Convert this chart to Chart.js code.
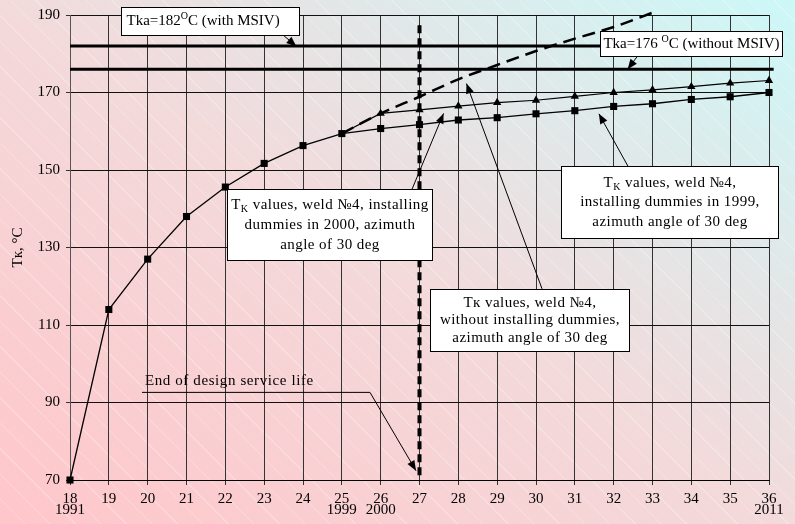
<!DOCTYPE html>
<html><head><meta charset="utf-8">
<script src="https://cdn.jsdelivr.net/npm/chart.js@4/dist/chart.umd.min.js"></script>
<style>
html,body{margin:0;padding:0;width:795px;height:524px;overflow:hidden;}
body{background:
 repeating-linear-gradient(45deg, rgba(255,255,255,0) 0px, rgba(255,255,255,0) 17px, rgba(255,255,255,0.25) 17px, rgba(255,255,255,0.25) 18px),
 linear-gradient(to top right, #ffc6ca 0%, #f3dadb 50%, #ccf8f8 100%);}
#wrap{position:relative;width:795px;height:524px;}
</style></head><body>
<div id="wrap"><canvas id="c" width="795" height="524"></canvas></div>
<script>
// ---------- data ----------
const xValues = [18,19,20,21,22,23,24,25,26,27,28,29,30,31,32,33,34,35,36];
const yearLabels = ['1991','','','','','','','1999','2000','','','','','','','','','','2011'];
const yTicks = [70,90,110,130,150,170,190];
// main curve + dummies installed in 1999 (squares)
const dummies1999 = [70,114,127,138,145.6,151.7,156.3,159.4,160.7,161.7,162.9,163.5,164.5,165.3,166.4,167.1,168.2,168.9,170.0];
// dummies installed in 2000 (triangles)
const xBranch2000 = [25,26,27,28,29,30,31,32,33,34,35,36];
const dummies2000 = [159.4,164.6,165.5,166.5,167.4,168.0,169.0,170.0,170.7,171.5,172.4,173.1];
// without dummies (dashed)
const xNoDummies = [25,26,27,28,29,30,31,32,33];
const noDummies = [159.4,164.6,168.9,173.4,177.1,180.7,183.9,186.9,190.6];
// limits
const tkaLimits = [182,176];
const endOfDesignYear = 27;

const FONT = "'Liberation Serif','Times New Roman',serif";
const pts = (xs, ys) => xs.map((x,i)=>({x:x,y:ys[i]}));

const datasets = [];
tkaLimits.forEach(v => datasets.push({
  data:[{x:18,y:v},{x:36.12,y:v}], borderColor:'#000', borderWidth:3, pointRadius:0, clip:false, order:5
}));
datasets.push({
  data:[{x:endOfDesignYear,y:71.2},{x:endOfDesignYear,y:188.5}], borderColor:'#000', borderWidth:4,
  borderDash:[8,5], pointRadius:0, clip:false, order:4
});
datasets.push({
  data:pts(xNoDummies,noDummies), borderColor:'#000', borderWidth:2.5, borderDash:[13,7],
  pointRadius:0, clip:false, cubicInterpolationMode:'monotone', order:3
});
datasets.push({
  data:pts(xBranch2000,dummies2000), borderColor:'#000', borderWidth:1.2,
  pointStyle:'triangle', pointRadius:(c)=>c.dataIndex===0?0:4.8, pointBackgroundColor:'#000', pointBorderColor:'#000', pointBorderWidth:0,
  clip:false, order:2
});
datasets.push({
  data:pts(xValues,dummies1999), borderColor:'#000', borderWidth:1.3,
  pointStyle:'rect', pointRadius:5, pointBackgroundColor:'#000', pointBorderColor:'#000', pointBorderWidth:0,
  clip:false, order:1
});

// ---------- annotations ----------
const boxes = [
  {x:19.313, y:192.06, w:178, h:28, lines:['Tka=182^{O}C (with MSIV)'], gap:18, ls:0, align:'left', arrow:[[23.485,184.86],[23.83,181.9]]},
  {x:31.648, y:185.89, w:182, h:25, lines:['Tka=176 ^{O}C (without MSIV)'], gap:18, ls:0, arrow:[[32.60,179.2],[32.36,176.0]]},
  {x:22.043, y:145.03, w:205, h:71, lines:['T_{K} values, weld №4, installing','dummies in 2000, azimuth','angle of 30 deg'], gap:20, ls:0.45, arrow:[[26.807,145.03],[27.62,164.6]]},
  {x:30.644, y:150.94, w:217, h:72, lines:['T_{K} values, weld №4,','installing dummies in 1999,','azimuth angle of 30 deg'], gap:19.5, ls:0.45, arrow:[[32.37,150.94],[31.62,164.5]]},
  {x:27.27, y:119.34, w:199, h:62, lines:['Tк values, weld №4,','without installing dummies,','azimuth angle of 30 deg'], gap:17.5, ls:0.45, arrow:[[30.155,119.34],[28.21,172.3]]}
];
const endNote = {text:'End of design service life', x:19.93, y:95.44, line:[[19.854,92.61],[25.725,92.61]], tip:[26.91,72.4]};

function parseRich(s){
  const out=[]; const re=/(_|\^)\{([^}]*)\}/g; let last=0,m;
  while((m=re.exec(s))){ if(m.index>last) out.push({t:s.slice(last,m.index)}); out.push({t:m[2], sub:m[1]==='_', sup:m[1]==='^'}); last=re.lastIndex; }
  if(last<s.length) out.push({t:s.slice(last)});
  return out;
}
function setF(ctx,s,size){ ctx.font=((s.sub||s.sup)?Math.round(size*0.68):size)+'px '+FONT; }
function drawRich(ctx, str, x0, cy, size, align){
  const segs=parseRich(str); let w=0;
  segs.forEach(s=>{setF(ctx,s,size); w+=ctx.measureText(s.t).width;});
  let x= align==='left' ? x0 : x0-w/2;
  segs.forEach(s=>{setF(ctx,s,size); const dy=s.sub?size*0.28:(s.sup?-size*0.33:0); ctx.fillText(s.t,x,cy+dy); x+=ctx.measureText(s.t).width;});
}
function arrow(ctx, x1,y1,x2,y2){
  ctx.beginPath(); ctx.moveTo(x1,y1); ctx.lineTo(x2,y2); ctx.lineWidth=1; ctx.strokeStyle='#000'; ctx.stroke();
  const a=Math.atan2(y2-y1,x2-x1), L=10, W=4;
  ctx.beginPath(); ctx.moveTo(x2,y2);
  ctx.lineTo(x2-L*Math.cos(a)+W*Math.sin(a), y2-L*Math.sin(a)-W*Math.cos(a));
  ctx.lineTo(x2-L*Math.cos(a)-W*Math.sin(a), y2-L*Math.sin(a)+W*Math.cos(a));
  ctx.closePath(); ctx.fillStyle='#000'; ctx.fill();
}
const annotPlugin = {
  id:'annot',
  afterDatasetsDraw(chart){
    const ctx=chart.ctx, xs=chart.scales.x, ys=chart.scales.y;
    const X=v=>xs.getPixelForValue(v), Y=v=>ys.getPixelForValue(v);
    ctx.save();
    // end of design note
    ctx.fillStyle='#000'; ctx.font='15px '+FONT; ctx.textBaseline='middle'; ctx.textAlign='left';
    ctx.letterSpacing='0.6px';
    ctx.fillText(endNote.text, X(endNote.x), Y(endNote.y));
    ctx.letterSpacing='0px';
    ctx.beginPath(); ctx.moveTo(X(endNote.line[0][0]),Y(endNote.line[0][1])); ctx.lineTo(X(endNote.line[1][0]),Y(endNote.line[1][1]));
    ctx.lineWidth=1; ctx.strokeStyle='#000'; ctx.stroke();
    arrow(ctx, X(endNote.line[1][0]),Y(endNote.line[1][1]), X(endNote.tip[0]),Y(endNote.tip[1]));
    boxes.forEach(b=>{
      arrow(ctx, X(b.arrow[0][0]),Y(b.arrow[0][1]), X(b.arrow[1][0]),Y(b.arrow[1][1]));
      const bx=Math.round(X(b.x))+0.5, by=Math.round(Y(b.y))+0.5;
      ctx.fillStyle='#fff'; ctx.fillRect(bx,by,b.w,b.h);
      ctx.lineWidth=1; ctx.strokeStyle='#000'; ctx.strokeRect(bx,by,b.w,b.h);
      ctx.fillStyle='#000'; ctx.textBaseline='middle'; ctx.textAlign='left';
      ctx.letterSpacing=b.ls+'px';
      const n=b.lines.length, cy0=by+b.h/2-(n-1)*b.gap/2;
      const tx = b.align==='left' ? bx+5 : bx+b.w/2;
      b.lines.forEach((l,i)=>drawRich(ctx,l,tx,cy0+i*b.gap,15,b.align));
      ctx.letterSpacing='0px';
    });
    ctx.restore();
  }
};

new Chart(document.getElementById('c'), {
  type:'line',
  data:{datasets:datasets},
  plugins:[annotPlugin],
  options:{
    responsive:false, animation:false, devicePixelRatio:1,
    layout:{padding:{left:0,top:13,right:26,bottom:0}},
    plugins:{legend:{display:false}, tooltip:{enabled:false}},
    elements:{line:{tension:0}},
    scales:{
      x:{type:'linear', min:18, max:36,
        afterFit:(s)=>{s.height=44;},
        afterBuildTicks:(s)=>{s.ticks=xValues.map(v=>({value:v}));},
        ticks:{color:'#000', autoSkip:false, maxRotation:0, padding:9,
          font:{family:FONT, size:15, lineHeight:'11px'},
          callback:(v)=>{const i=xValues.indexOf(v); const sub=i>=0?yearLabels[i]:''; return sub?[String(v),sub]:String(v);}},
        grid:{color:'#333', lineWidth:1, tickLength:5, tickColor:'#333'},
        border:{color:'#000', width:1}
      },
      y:{type:'linear', min:70, max:190,
        afterFit:(s)=>{s.width=70;},
        afterBuildTicks:(s)=>{s.ticks=yTicks.map(v=>({value:v}));},
        ticks:{color:'#000', padding:6, font:{family:FONT, size:15}},
        grid:{color:'#111', lineWidth:1, tickLength:4, tickColor:'#333'},
        border:{color:'#555', width:1},
        title:{display:true, text:'Tк, °C', color:'#000', font:{family:FONT, size:15}, padding:{top:9,bottom:0}}
      }
    }
  }
});
</script></body></html>
